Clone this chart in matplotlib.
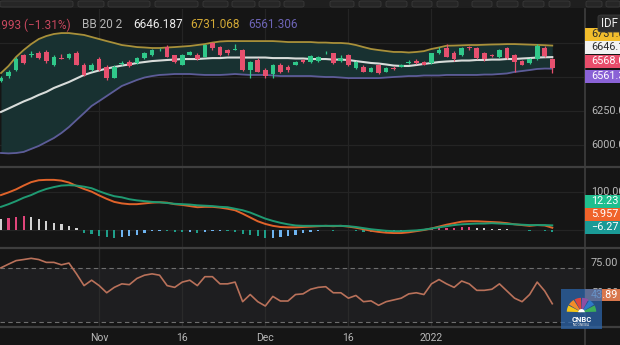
import matplotlib
matplotlib.use("Agg")
import matplotlib.pyplot as plt
from matplotlib.patches import Rectangle, Wedge, FancyBboxPatch
from matplotlib.lines import Line2D

plt.rcParams["font.family"] = ["Roboto", "DejaVu Sans"]

# daily sessions, index 0 = first visible bar (mid Oct 2021)
opens = [6470, 6505, 6550, 6660, 6665, 6675, 6685, 6590, 6640, 6640,
         6680, 6590, 6555, 6635, 6575, 6495, 6598, 6612, 6600, 6637,
         6662, 6695, 6722, 6660, 6590, 6665, 6665, 6650, 6750, 6722,
         6700, 6700, 6700, 6555, 6625, 6555, 6525, 6590, 6570, 6590,
         6625, 6613, 6615, 6675, 6674, 6615, 6662, 6565, 6576, 6540,
         6588, 6540, 6566, 6576, 6603, 6620, 6612, 6600, 6674, 6711,
         6680, 6662, 6720, 6711, 6675, 6665, 6645, 6711, 6662, 6615,
         6600, 6632, 6712, 6630]
highs = [6505, 6550, 6645, 6670, 6690, 6690, 6695, 6665, 6670, 6680,
         6690, 6600, 6600, 6645, 6590, 6585, 6620, 6625, 6645, 6685,
         6705, 6715, 6735, 6665, 6668, 6690, 6675, 6740, 6760, 6730,
         6705, 6745, 6705, 6620, 6640, 6565, 6595, 6600, 6590, 6620,
         6635, 6660, 6655, 6690, 6680, 6660, 6670, 6620, 6585, 6570,
         6595, 6572, 6580, 6595, 6625, 6630, 6620, 6680, 6720, 6740,
         6688, 6718, 6730, 6720, 6682, 6672, 6705, 6718, 6670, 6622,
         6640, 6740, 6725, 6640]
lows = [6460, 6495, 6545, 6595, 6650, 6635, 6605, 6580, 6630, 6635,
        6585, 6505, 6545, 6545, 6480, 6490, 6585, 6570, 6595, 6630,
        6655, 6690, 6645, 6605, 6585, 6660, 6625, 6645, 6700, 6655,
        6665, 6695, 6545, 6490, 6535, 6495, 6495, 6530, 6540, 6585,
        6605, 6605, 6610, 6670, 6595, 6610, 6580, 6560, 6535, 6535,
        6520, 6535, 6555, 6570, 6595, 6595, 6585, 6595, 6668, 6645,
        6620, 6655, 6700, 6630, 6615, 6648, 6640, 6630, 6540, 6585,
        6595, 6628, 6650, 6530]
closes = [6495, 6540, 6635, 6605, 6672, 6640, 6615, 6650, 6635, 6672,
          6590, 6515, 6590, 6555, 6495, 6575, 6602, 6578, 6637, 6678,
          6698, 6700, 6650, 6613, 6662, 6685, 6630, 6735, 6712, 6662,
          6675, 6705, 6555, 6612, 6540, 6505, 6588, 6540, 6550, 6613,
          6613, 6652, 6649, 6680, 6600, 6637, 6590, 6612, 6540, 6564,
          6527, 6564, 6562, 6588, 6607, 6600, 6590, 6674, 6698, 6650,
          6630, 6711, 6712, 6637, 6632, 6655, 6698, 6637, 6613, 6590,
          6630, 6725, 6655, 6568.0]

# Bollinger Bands (20, 2)
bb_upper = [6529, 6581, 6647, 6698, 6742, 6779, 6801, 6816, 6823, 6823,
            6816, 6809, 6794, 6779, 6764, 6750, 6735, 6728, 6720, 6717,
            6713, 6713, 6717, 6720, 6724, 6728, 6735, 6742, 6753, 6761,
            6764, 6764, 6764, 6764, 6764, 6764, 6764, 6761, 6757, 6757,
            6757, 6757, 6753, 6753, 6750, 6750, 6746, 6735, 6720, 6706,
            6698, 6691, 6684, 6684, 6680, 6684, 6690, 6706, 6717, 6730,
            6731, 6733, 6735, 6735, 6737, 6739, 6740, 6742, 6742, 6740,
            6738, 6736, 6734, 6731.068]
bb_mid = [6243, 6268, 6294, 6320, 6342, 6368, 6390, 6419, 6441, 6463,
          6489, 6515, 6533, 6548, 6562, 6573, 6584, 6592, 6603, 6610,
          6617, 6621, 6625, 6628, 6632, 6632, 6632, 6636, 6639, 6639,
          6643, 6643, 6643, 6643, 6643, 6643, 6639, 6639, 6639, 6636,
          6636, 6632, 6632, 6632, 6628, 6628, 6625, 6617, 6610, 6603,
          6599, 6592, 6584, 6581, 6581, 6588, 6596, 6603, 6610, 6614,
          6617, 6621, 6621, 6625, 6625, 6628, 6628, 6632, 6632, 6636,
          6639, 6643, 6645, 6646.187]
bb_lower = [5941, 5938, 5941, 5949, 5971, 5993, 6022, 6051, 6088, 6132,
            6184, 6235, 6287, 6323, 6360, 6397, 6434, 6456, 6478, 6496,
            6507, 6515, 6518, 6522, 6522, 6522, 6518, 6515, 6515, 6515,
            6518, 6522, 6518, 6515, 6515, 6515, 6511, 6507, 6507, 6507,
            6507, 6507, 6503, 6500, 6500, 6496, 6492, 6492, 6492, 6492,
            6492, 6496, 6500, 6503, 6507, 6507, 6511, 6511, 6511, 6515,
            6515, 6515, 6515, 6515, 6518, 6518, 6522, 6526, 6537, 6544,
            6551, 6559, 6562, 6561.306]

# MACD
macd_line = [92, 99, 107, 117, 126, 131, 132, 132, 130, 125,
             116, 108, 101, 91, 82, 74, 70, 68, 68, 70,
             72, 73, 72, 68, 66, 63, 60, 61, 61, 59,
             56, 52, 43, 33, 23, 16, 11, 8, 7, 7,
             8, 9, 10, 11, 10, 11, 9, 6, 2, -2,
             -5, -7, -8, -8, -6, -3, 0, 4, 9, 14,
             18, 22, 23, 23, 22, 21, 20, 18, 15, 13,
             11, 13, 12, 5.957]
macd_signal = [61, 68, 76, 85, 92, 101, 108, 113, 117, 118,
               117, 114, 110, 102, 95, 89, 86, 81, 78, 76,
               74, 73, 71, 69, 68, 67, 65, 64, 63, 61,
               60, 56, 52, 46, 38, 30, 24, 19, 15, 12,
               11, 11, 11, 11, 11, 11, 10, 8, 5, 2,
               0, -2, -3, -3, -2, -1, 1, 4, 7, 10,
               13, 15, 16, 17, 17, 18, 17, 16, 15, 14,
               13, 13, 13, 12.23]
macd_hist = [28, 31, 35, 37, 33, 28, 24, 19, 15, 10,
             4, -8, -11, -15, -18, -21, -19, -16, -12, -8,
             -3, -2, -3, -5, -6, -6, -7, -4, -2, -2,
             -3, -6, -10, -13, -17, -21, -20, -18, -15, -12,
             -9, -6, -2, -1, -1.5, -0.5, -1, -2, -4, -5,
             -6, -6.5, -5, -4, -3, -2, -1, 2, 4, 5,
             6, 7, 7.5, 6, 5, 3, 2.5, 2, 0.5, -1,
             -2, -1, -2, -6.27]

# RSI (14)
rsi = [70.5, 73.2, 75.8, 76.6, 77.5, 76.6, 74.5, 74.5, 72.7, 74,
       66, 57.3, 61.3, 57.3, 52, 56, 58.6, 58, 62.6, 65,
       66, 65, 57.3, 56, 59.9, 61.3, 57.3, 63.9, 63.9, 58.6,
       58.6, 59.9, 45.4, 50.7, 45.4, 42.2, 49.3, 45.9, 45.9, 50.7,
       51.2, 54.6, 56, 56.5, 52, 52, 48, 50, 45.4, 46,
       42.7, 45.4, 46.7, 48, 51.2, 52, 50.7, 58.6, 61.8, 58.6,
       56, 60.7, 58.6, 53.8, 53.8, 54.6, 58.6, 53.3, 48, 45.4,
       50.7, 59.9, 53.3, 43.89]

tick_pos = [13, 24, 35, 46, 57]
tick_labels = ["Nov", "16", "Dec", "16", "2022"]

W, H = 620, 345
BG = "#151515"
GRID = "#242424"
SEP = "#3e3e3e"
UP = "#30c88a"
DOWN = "#e6506e"
AXIS_TXT = "#b8b8b8"


def fx(px):
    return px / W


def fy(py):
    return 1 - py / H


fig = plt.figure(figsize=(6.2, 3.45), dpi=100, facecolor=BG)


def pane(top, bottom):
    ax = fig.add_axes([0, fy(bottom), fx(584), (bottom - top) / H])
    ax.set_facecolor(BG)
    for s in ax.spines.values():
        s.set_visible(False)
    ax.set_xlim(-0.13, 77.2)
    ax.set_yticks([])
    ax.set_xticks([])
    for t in tick_pos:
        ax.axvline(t, color=GRID, lw=0.9, zorder=0)
    return ax


ax1 = pane(9, 167)
ax2 = pane(168, 247)
ax3 = pane(249, 326)

x = list(range(len(closes)))

# price pane: bands + candles
ax1.set_ylim(5838, 7000)
for lvl in (6000, 6250, 6500, 6750):
    ax1.axhline(lvl, color=GRID, lw=0.9, zorder=0)
ax1.fill_between(x, bb_lower, bb_upper, color="#183131", lw=0, zorder=1)
ax1.plot(x, bb_upper, color="#a8903a", lw=1.3, zorder=2)
ax1.plot(x, bb_lower, color="#5d5c98", lw=1.3, zorder=2)
ax1.plot(x, bb_mid, color="#d8dcda", lw=1.5, zorder=2)

ccol = [UP if c >= o else DOWN for o, c in zip(opens, closes)]
ax1.vlines(x, lows, highs, colors=ccol, lw=0.9, zorder=3)
bottoms = [min(o, c) for o, c in zip(opens, closes)]
heights = [max(abs(c - o), 5) for o, c in zip(opens, closes)]
ax1.bar(x, heights, bottom=bottoms, width=0.62, color=ccol, lw=0, zorder=4)

# MACD pane
ax2.set_ylim(-44.7, 163.2)
ax2.axhline(0, color=GRID, lw=0.9, zorder=0)
ax2.axhline(100, color=GRID, lw=0.9, zorder=0)
hcol = []
for i, h in enumerate(macd_hist):
    prev = macd_hist[i - 1] if i else h + 1
    if h >= 0:
        hcol.append("#e0457b" if h > prev else "#d2d2d2")
    else:
        hcol.append("#1f9e89" if h < prev else "#6fb4f0")
ax2.bar(x, macd_hist, width=0.3, color=hcol, lw=0, zorder=1)
ax2.plot(x, macd_line, color="#e0632a", lw=1.4, zorder=2)
ax2.plot(x, macd_signal, color="#1f9a72", lw=1.4, zorder=3)

# RSI pane
ax3.set_ylim(27.4, 84.4)
ax3.axhspan(30, 70, color="#1e1e20", lw=0, zorder=0)
for t in tick_pos:
    ax3.axvline(t, color="#2a2a2a", lw=0.9, zorder=0.5)
ax3.axhline(70, color="#6e6e6e", lw=0.8, ls=(0, (4, 3)), zorder=1)
ax3.axhline(30, color="#6e6e6e", lw=0.8, ls=(0, (4, 3)), zorder=1)
ax3.plot(x, rsi, color="#b9715a", lw=1.2, zorder=2)
ax3.set_xticks(tick_pos)
ax3.set_xticklabels(tick_labels)
ax3.tick_params(axis="x", length=0, pad=5, labelsize=7.5, labelcolor=AXIS_TXT)

# pane separators and price-scale border
for ypx in (167.5, 247.5, 326.5):
    fig.add_artist(Line2D([0, 1], [fy(ypx)] * 2, color=SEP, lw=1.6))
fig.add_artist(Line2D([fx(584.5)] * 2, [0, fy(9)], color=SEP, lw=1.2))

# toolbar strip
fig.add_artist(Rectangle((0, fy(8)), 1, 8 / H, transform=fig.transFigure,
                         fc="#1f1f1f", ec="none"))
for x0, x1 in [(0, 73), (78, 104), (108, 150), (155, 198), (203, 228), (232, 255),
               (259, 280), (284, 304), (330, 354), (359, 381), (386, 407),
               (412, 432), (437, 458), (472, 492), (497, 518), (523, 544),
               (549, 570), (586, 602), (606, 620)]:
    fig.add_artist(FancyBboxPatch((fx(x0), fy(7)), fx(x1 - x0), 6 / H,
                                  boxstyle="round,pad=0,rounding_size=0.004",
                                  transform=fig.transFigure, fc="#262626",
                                  ec="#3a3a3a", lw=0.6))

# legend line
fs_leg = 8.5
fig.text(fx(71), fy(25), "\u221286.993 (\u22121.31%)", color="#c9485f",
         fontsize=fs_leg, ha="right", va="center")
fig.text(fx(82), fy(25), "BB 20 2", color="#b5b5b5", fontsize=fs_leg, va="center")
fig.text(fx(133), fy(25), "6646.187", color="#ececec", fontsize=fs_leg, va="center")
fig.text(fx(190), fy(25), "6731.068", color="#d4aa36", fontsize=fs_leg, va="center")
fig.text(fx(248), fy(25), "6561.306", color="#6d64b6", fontsize=fs_leg, va="center")

fs_ax = 7.8


def axis_text(ypx, text):
    fig.text(fx(591), fy(ypx), text, color=AXIS_TXT, fontsize=fs_ax,
             va="center", ha="left", zorder=4)


def tag(ypx, text, bg, fg, h=13):
    fig.add_artist(Rectangle((fx(585), fy(ypx + h / 2)), fx(35), h / H,
                             transform=fig.transFigure, fc=bg, ec="none", zorder=5))
    fig.text(fx(591), fy(ypx), text, color=fg, fontsize=fs_ax,
             va="center", ha="left", zorder=6)


axis_text(111, "6250.000")
axis_text(145, "6000.000")
tag(34, "6731.068", "#f2bd2c", "#2a2a2a")
tag(47.5, "6646.187", "#f2f2f2", "#2a2a2a")
tag(61.5, "6568.000", "#e84d6b", "#ffffff")
tag(76, "6561.306", "#8a62d6", "#ffffff")
fig.add_artist(FancyBboxPatch((fx(598), fy(32)), fx(26), 17 / H,
                              boxstyle="round,pad=0,rounding_size=0.006",
                              transform=fig.transFigure, fc="#2c2c2c",
                              ec="#3c3c3c", lw=0.6, zorder=7))
fig.text(fx(601), fy(23.5), "IDF", color="#f0f0f0", fontsize=8.3,
         va="center", ha="left", zorder=8)

axis_text(192, "100.000")
tag(201, "12.23", "#1fbf8f", "#ffffff")
tag(214, "5.957", "#f0632a", "#ffffff")
tag(227, "\u22126.27", "#1a9a96", "#ffffff")

axis_text(263, "75.00")
axis_text(293, "50.00")
tag(295, "43.89", "#d9774c", "#ffffff", h=12)

# watermark logo
lg = fig.add_axes([fx(561), fy(329), fx(41), 40 / H], zorder=10)
lg.set_xlim(0, 1)
lg.set_ylim(0, 1)
lg.axis("off")
lg.add_patch(Rectangle((0, 0), 1, 1, fc="#2d68b0", ec="none", alpha=0.72))
feathers = ["#f5c518", "#f28c28", "#e0463c", "#8e4fa3", "#2f79c6", "#3cae58"]
for k, c in enumerate(feathers):
    a0 = 180 - (k + 1) * 30
    lg.add_patch(Wedge((0.5, 0.42), 0.36, a0 + 2, a0 + 28, fc=c, ec="none"))
lg.add_patch(Wedge((0.5, 0.42), 0.08, 0, 180, fc="#ffffff", ec="none"))
lg.text(0.5, 0.25, "CNBC", color="#ffffff", fontsize=5.5, fontweight="bold",
        ha="center", va="center")
lg.text(0.5, 0.09, "INDONESIA", color="#e8e8e8", fontsize=2.4,
        ha="center", va="center")

fig.savefig("out.png", dpi=100, facecolor=BG)
